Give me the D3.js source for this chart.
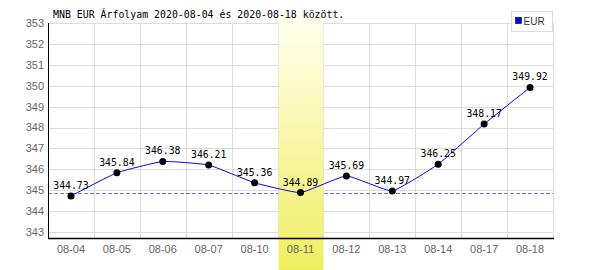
<!DOCTYPE html>
<html>
<head>
<meta charset="utf-8">
<script src="https://cdn.jsdelivr.net/npm/d3@7"></script>
<style>
  body { margin: 0; background: #fff; }
</style>
</head>
<body>
<script>
// Data
const dates = ["08-04", "08-05", "08-06", "08-07", "08-10", "08-11", "08-12", "08-13", "08-14", "08-17", "08-18"];
const rates = [344.73, 345.84, 346.38, 346.21, 345.36, 344.89, 345.69, 344.97, 346.25, 348.17, 349.92];
const yTicks = [343, 344, 345, 346, 347, 348, 349, 350, 351, 352, 353];
const highlightDate = "08-11";
const refValue = 344.89;
const title = "MNB EUR Árfolyam 2020-08-04 és 2020-08-18 között.";
const seriesName = "EUR";

const W = 600, H = 270;
const margin = { top: 23, right: 47, bottom: 32, left: 48 };
const width = W - margin.left - margin.right;
const height = H - margin.top - margin.bottom;

const svg = d3.select("body").append("svg")
  .attr("width", W)
  .attr("height", H);

// Gradient for highlighted day
const grad = svg.append("defs").append("linearGradient")
  .attr("id", "hl").attr("x1", 0).attr("y1", 0).attr("x2", 0).attr("y2", 1);
grad.append("stop").attr("offset", "0%").attr("stop-color", "#fffff0");
grad.append("stop").attr("offset", "100%").attr("stop-color", "#f0ee60");

const g = svg.append("g")
  .attr("transform", `translate(${margin.left},${margin.top})`);

const x = d3.scaleBand().domain(dates).range([0, width]).padding(0);
const y = d3.scaleLinear().domain([342.72, 353]).range([height, 0]);

// Grid
g.append("g").selectAll("line").data(yTicks).join("line")
  .attr("x1", 0).attr("x2", width)
  .attr("y1", d => Math.round(y(d)) + 0.5).attr("y2", d => Math.round(y(d)) + 0.5)
  .attr("stroke", "#dcdcdc");

g.append("g").selectAll("line").data(dates.slice(1).concat(["end"])).join("line")
  .attr("x1", d => Math.round(d === "end" ? width : x(d)) + 0.5)
  .attr("x2", d => Math.round(d === "end" ? width : x(d)) + 0.5)
  .attr("y1", y(353)).attr("y2", height)
  .attr("stroke", "#dcdcdc");

// Reference dashed line
g.append("line")
  .attr("x1", 0).attr("x2", width)
  .attr("y1", Math.round(y(refValue)) + 0.5).attr("y2", Math.round(y(refValue)) + 0.5)
  .attr("stroke", "#7070ff")
  .attr("stroke-dasharray", "4,2");

// Highlight band
g.append("rect")
  .attr("x", x(highlightDate) + 1)
  .attr("y", -9)
  .attr("width", x.bandwidth() - 1)
  .attr("height", H - margin.top + 9)
  .attr("fill", "url(#hl)");

// Axes lines
g.append("line")
  .attr("x1", 0.5).attr("x2", 0.5).attr("y1", y(353)).attr("y2", height + 1)
  .attr("stroke", "#000");
g.append("line")
  .attr("x1", 0).attr("x2", width + 1).attr("y1", height + 0.5).attr("y2", height + 0.5)
  .attr("stroke", "#000").attr("stroke-width", 1.5);

// Y tick labels
g.append("g").selectAll("text").data(yTicks).join("text")
  .attr("x", -4)
  .attr("y", d => y(d))
  .attr("dy", "0.35em")
  .attr("text-anchor", "end")
  .attr("fill", "#666")
  .style("font-family", "Liberation Sans, Arial, sans-serif")
  .style("font-size", "11px")
  .text(d => d);

// X tick labels
g.append("g").selectAll("text").data(dates).join("text")
  .attr("x", d => x(d) + x.bandwidth() / 2)
  .attr("y", height + 15)
  .attr("text-anchor", "middle")
  .attr("fill", "#666")
  .style("font-family", "Liberation Sans, Arial, sans-serif")
  .style("font-size", "11px")
  .text(d => d);

// Line
const pts = dates.map((d, i) => ({ d, v: rates[i] }));
const line = d3.line()
  .x(p => x(p.d) + x.bandwidth() / 2)
  .y(p => y(p.v))
  .curve(d3.curveCardinal.tension(0.65));

g.append("path")
  .datum(pts)
  .attr("fill", "none")
  .attr("stroke", "#0000ff")
  .attr("stroke-width", 1)
  .attr("d", line);

// Points
g.append("g").selectAll("circle").data(pts).join("circle")
  .attr("cx", p => x(p.d) + x.bandwidth() / 2)
  .attr("cy", p => y(p.v))
  .attr("r", 3.5)
  .attr("fill", "#000");

// Value labels
g.append("g").selectAll("text").data(pts).join("text")
  .attr("x", p => x(p.d) + x.bandwidth() / 2)
  .attr("y", p => y(p.v) - 7)
  .attr("text-anchor", "middle")
  .attr("fill", "#000")
  .style("font-family", "DejaVu Sans Mono, monospace")
  .style("font-size", "9.8px")
  .text(p => p.v.toFixed(2));

// Title
svg.append("text")
  .attr("x", 53)
  .attr("y", 18)
  .attr("fill", "#000")
  .style("font-family", "DejaVu Sans Mono, monospace")
  .style("font-size", "9.9px")
  .text(title);

// Legend
const lg = svg.append("g").attr("transform", "translate(511.5,11.5)");
lg.append("rect")
  .attr("width", 41).attr("height", 20)
  .attr("fill", "#fff").attr("stroke", "#dcdcdc");
lg.append("rect")
  .attr("x", 4).attr("y", 6).attr("width", 6).attr("height", 6)
  .attr("fill", "#0000ff").attr("stroke", "#000").attr("stroke-width", 0.6);
lg.append("text")
  .attr("x", 12).attr("y", 13)
  .attr("fill", "#333")
  .style("font-family", "Liberation Sans, Arial, sans-serif")
  .style("font-size", "10px")
  .text(seriesName);
</script>
</body>
</html>
